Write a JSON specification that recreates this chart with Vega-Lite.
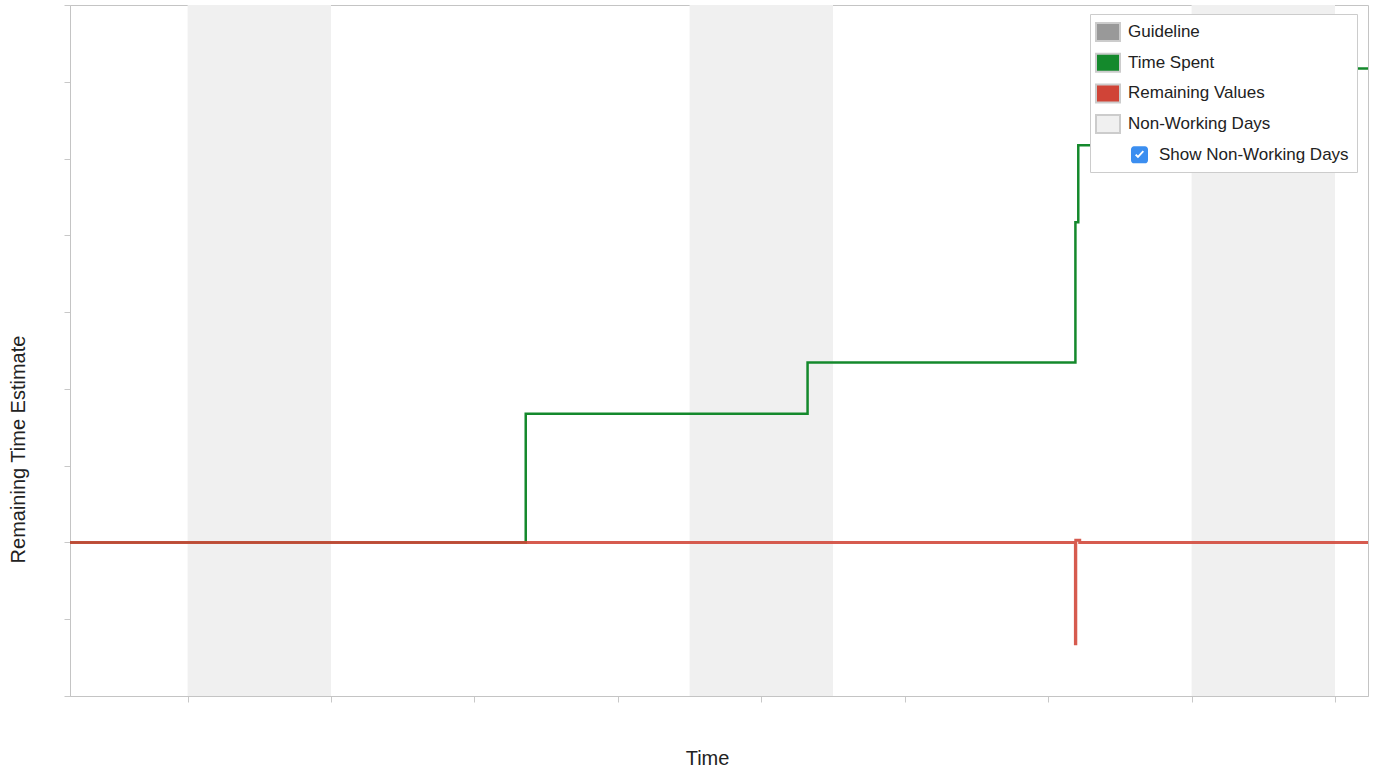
{
  "$schema": "https://vega.github.io/schema/vega-lite/v6.json",
  "width": 1298,
  "height": 691,
  "autosize": {"type": "none"},
  "padding": {"left": 70, "top": 5, "right": 9, "bottom": 74},
  "background": "white",
  "config": {
    "view": {"stroke": "#c4c4c4", "strokeWidth": 1},
    "font": "Liberation Sans"
  },
  "datasets": {
    "nonworking": [
      {"start": 0, "end": 2, "series": "Non-Working Days"},
      {"start": 7, "end": 9, "series": "Non-Working Days"},
      {"start": 14, "end": 16, "series": "Non-Working Days"}
    ],
    "spent": [
      {"day": -1.64, "value": 0, "series": "Time Spent"},
      {"day": 4.715, "value": 1.676, "series": "Time Spent"},
      {"day": 8.645, "value": 2.344, "series": "Time Spent"},
      {"day": 12.38, "value": 4.17, "series": "Time Spent"},
      {"day": 12.42, "value": 5.173, "series": "Time Spent"},
      {"day": 16.3, "value": 6.172, "series": "Time Spent"},
      {"day": 16.46, "value": 6.172, "series": "Time Spent"}
    ],
    "remaining": [
      {"day": -1.64, "value": 0, "series": "Remaining Values"},
      {"day": 12.38, "value": -1.32, "series": "Remaining Values"},
      {"day": 12.385, "value": 0.03, "series": "Remaining Values"},
      {"day": 12.44, "value": 0, "series": "Remaining Values"},
      {"day": 16.46, "value": 0, "series": "Remaining Values"}
    ]
  },
  "layer": [
    {
      "data": {"name": "nonworking"},
      "mark": {"type": "rect"},
      "encoding": {
        "x": {
          "field": "start",
          "type": "quantitative",
          "scale": {"domain": [-1.64, 16.46], "nice": false, "zero": false},
          "axis": {
            "values": [0, 2, 4, 6, 8, 10, 12, 14, 16],
            "labels": false,
            "grid": false,
            "tickColor": "#c8c8c8",
            "tickSize": 6,
            "domainColor": "#c4c4c4",
            "title": "Time",
            "titleFont": "Liberation Sans",
            "titleFontSize": 20,
            "titleFontWeight": "normal",
            "titleColor": "#222222",
            "titleX": 637,
            "titleY": 68,
            "titleBaseline": "alphabetic",
            "titleAlign": "center"
          }
        },
        "x2": {"field": "end"},
        "color": {
          "field": "series",
          "type": "nominal",
          "scale": {
            "domain": ["Guideline", "Time Spent", "Remaining Values", "Non-Working Days", "Show Non-Working Days"],
            "range": ["#999999", "#14892c", "#d04437", "#f0f0f0", "#3b8ef0"]
          },
          "legend": {
            "title": null,
            "orient": "none",
            "legendX": 1020,
            "legendY": 9,
            "direction": "vertical",
            "fillColor": "white",
            "strokeColor": "#cccccc",
            "padding": 8,
            "cornerRadius": 0,
            "symbolSize": 324,
            "symbolStrokeWidth": 2,
            "symbolStrokeColor": "#cccccc",
            "labelFont": "Liberation Sans",
            "labelFontSize": 17,
            "labelColor": "#222222",
            "labelOffset": 10,
            "labelLimit": 400,
            "rowPadding": 4.7,
            "zindex": 1,
            "encode": {
              "symbols": {
                "update": {
                  "shape": [
                    {"test": "datum.value === 'Show Non-Working Days'", "value": "M3.5,-1.4L3.5,-1.4M2.89,-0.944H4.11A0.333,0.333 0 0 1 4.444,-0.611V0.611A0.333,0.333 0 0 1 4.11,0.944H2.89A0.333,0.333 0 0 1 2.556,0.611V-0.611A0.333,0.333 0 0 1 2.89,-0.944ZM3.0,0.056L3.333,0.389L4.0,-0.333L3.856,-0.478L3.333,0.089L3.144,-0.089Z"},
                    {"value": "M-1.333,-1H1.333V1H-1.333Z"}
                  ],
                  "stroke": {"value": "#cccccc"},
                  "strokeWidth": {"value": 2},
                  "strokeOpacity": [
                    {"test": "datum.value === 'Show Non-Working Days'", "value": 0},
                    {"value": 1}
                  ],
                  "opacity": {"value": 1},
                  "fillOpacity": {"value": 1}
                }
              },
              "labels": {
                "update": {
                  "dx": [
                    {"test": "datum.value === 'Show Non-Working Days'", "value": 31},
                    {"value": 0}
                  ]
                }
              }
            }
          }
        }
      }
    },
    {
      "data": {"name": "spent"},
      "mark": {"type": "line", "interpolate": "step-after", "strokeWidth": 2.5},
      "encoding": {
        "x": {"field": "day", "type": "quantitative"},
        "y": {
          "field": "value",
          "type": "quantitative",
          "scale": {"domain": [-2, 7], "nice": false, "zero": false},
          "axis": {
            "values": [-2, -1, 0, 1, 2, 3, 4, 5, 6, 7],
            "labels": false,
            "grid": false,
            "tickColor": "#c8c8c8",
            "tickSize": 6,
            "domainColor": "#c4c4c4",
            "title": "Remaining Time Estimate",
            "titleFont": "Liberation Sans",
            "titleFontSize": 20,
            "titleFontWeight": "normal",
            "titleColor": "#222222",
            "titleX": -46,
            "titleY": 444,
            "titleAngle": 270,
            "titleBaseline": "alphabetic",
            "titleAlign": "center"
          }
        },
        "stroke": {
          "field": "series",
          "type": "nominal",
          "scale": {"domain": ["Time Spent", "Remaining Values"], "range": ["#14892c", "#d04437"]},
          "legend": null
        }
      }
    },
    {
      "data": {"name": "remaining"},
      "mark": {"type": "line", "interpolate": "step-after", "strokeWidth": 3, "opacity": 0.88},
      "encoding": {
        "x": {"field": "day", "type": "quantitative"},
        "y": {"field": "value", "type": "quantitative"},
        "stroke": {"field": "series", "type": "nominal", "legend": null}
      }
    }
  ]
}
